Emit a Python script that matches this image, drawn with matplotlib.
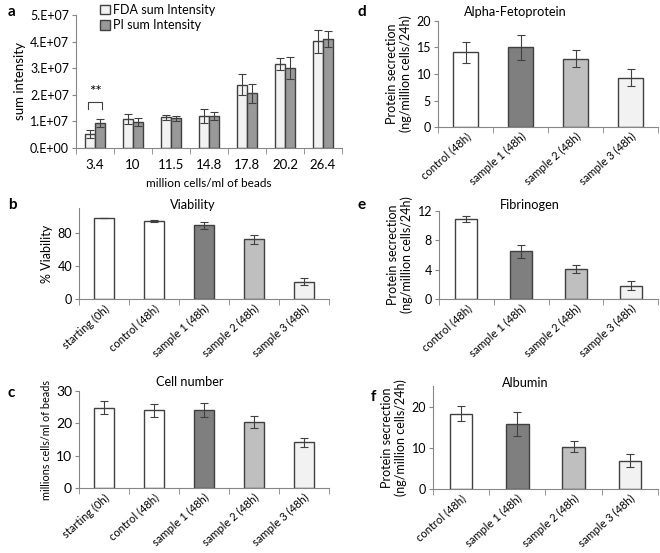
import numpy as np
import matplotlib.pyplot as plt

plt.rcParams['font.family'] = ['Lato', 'DejaVu Sans']
plt.rcParams['font.size'] = 9

# panel a data
densities = ['3.4', '10', '11.5', '14.8', '17.8', '20.2', '26.4']
fda = [0.54e7, 1.075e7, 1.15e7, 1.21e7, 2.375e7, 3.16e7, 4.01e7]
fda_err = [0.15e7, 0.19e7, 0.09e7, 0.26e7, 0.39e7, 0.21e7, 0.42e7]
pi = [0.94e7, 0.975e7, 1.11e7, 1.21e7, 2.05e7, 3.01e7, 4.09e7]
pi_err = [0.15e7, 0.14e7, 0.10e7, 0.14e7, 0.35e7, 0.40e7, 0.30e7]

# panels b, c
groups5 = ['starting (0h)', 'control (48h)', 'sample 1 (48h)', 'sample 2 (48h)', 'sample 3 (48h)']
viability = [98, 94, 89, 72, 21]
viability_err = [0, 1.5, 4, 5, 4.3]
cell_number = [24.8, 24.0, 24.2, 20.4, 14.2]
cell_number_err = [2.0, 2.0, 2.2, 1.9, 1.4]

# panels d, e, f
groups4 = ['control (48h)', 'sample 1 (48h)', 'sample 2 (48h)', 'sample 3 (48h)']
afp = [14.1, 15.0, 12.9, 9.3]
afp_err = [2.0, 2.4, 1.6, 1.6]
fibrinogen = [10.9, 6.5, 4.1, 1.8]
fibrinogen_err = [0.4, 0.9, 0.6, 0.6]
albumin = [18.3, 15.7, 10.3, 6.9]
albumin_err = [1.8, 2.9, 1.4, 1.5]

colors5 = ['white', 'white', '#7f7f7f', '#bfbfbf', '#f2f2f2']
colors4 = colors5[1:]
edge = '#404040'
spine_col = '#868686'

W, H = 660, 553
fig = plt.figure(figsize=(W / 100, H / 100), dpi=100)


def box(left, top, right, bottom):
    return [left / W, 1 - bottom / H, (right - left) / W, (bottom - top) / H]


def style(ax, n):
    for s in ['top', 'right']:
        ax.spines[s].set_visible(False)
    for s in ['left', 'bottom']:
        ax.spines[s].set_color(spine_col)
    ax.tick_params(axis='y', length=3, color=spine_col, pad=2)
    ax.set_xlim(-0.5, n - 0.5)
    ax.set_xticks(np.arange(n + 1) - 0.5, minor=True)
    ax.tick_params(axis='x', which='major', length=0, pad=3)
    ax.tick_params(axis='x', which='minor', length=4, color=spine_col)


def bar_panel(ax, labels, vals, errs, cols, ylim, yticks, ylabel, ylsize=9, width=0.4):
    x = np.arange(len(labels))
    ax.bar(x, vals, width, color=cols, edgecolor=edge, linewidth=1.0, zorder=2)
    ax.errorbar(x, vals, yerr=errs, fmt='none', ecolor='#404040', elinewidth=0.8,
                capsize=3, capthick=0.8, zorder=3)
    style(ax, len(labels))
    ax.set_ylim(*ylim)
    ax.set_yticks(yticks)
    ax.set_xticks(x)
    ax.set_xticklabels(labels, rotation=42, ha='right', rotation_mode='anchor', fontsize=8)
    ax.set_ylabel(ylabel, labelpad=3, fontsize=ylsize)


# panel a
ax = fig.add_axes(box(76, 15, 342, 148))
x = np.arange(len(densities))
w = 0.27
ax.bar(x - w / 2, fda, w, color='#f2f2f2', edgecolor=edge, linewidth=1.0, label='FDA sum Intensity', zorder=2)
ax.bar(x + w / 2, pi, w, color='#999999', edgecolor=edge, linewidth=1.0, label='PI sum Intensity', zorder=2)
ax.errorbar(x - w / 2, fda, yerr=fda_err, fmt='none', ecolor='#404040', elinewidth=0.8, capsize=3, capthick=0.8, zorder=3)
ax.errorbar(x + w / 2, pi, yerr=pi_err, fmt='none', ecolor='#404040', elinewidth=0.8, capsize=3, capthick=0.8, zorder=3)
style(ax, len(densities))
ax.set_ylim(0, 5e7)
ax.set_yticks(np.arange(0, 5.1e7, 1e7))
ax.set_yticklabels(['0.E+00', '1.E+07', '2.E+07', '3.E+07', '4.E+07', '5.E+07'])
ax.set_xticks(x)
ax.set_xticklabels(densities, fontsize=9.5)
ax.tick_params(axis='x', which='major', pad=8)
ax.set_xlabel('million cells/ml of beads', labelpad=5, fontsize=8.5)
ax.set_ylabel('sum intensity', labelpad=3, fontsize=9.5)
ax.legend(loc='upper left', bbox_to_anchor=(0.07, 1.12), frameon=False, handlelength=0.8,
          handleheight=0.8, handletextpad=0.3, labelspacing=0.25, borderaxespad=0)
# significance bracket
bx0, bx1 = -w / 2 - 0.05, w / 2 + 0.05
ax.plot([bx0, bx0, bx1, bx1], [1.45e7, 1.72e7, 1.72e7, 1.45e7], color='#404040', lw=0.8)
ax.text(0, 2.1e7, '**', ha='center', va='center', fontsize=11)

prot_label = 'Protein secrection\n(ng/million cells/24h)'

# panel b
ax = fig.add_axes(box(79, 208, 329, 299))
bar_panel(ax, groups5, viability, viability_err, colors5, (0, 110), [0, 40, 80], '% Viability')

# panel c
ax = fig.add_axes(box(79, 391, 329, 488))
bar_panel(ax, groups5, cell_number, cell_number_err, colors5, (0, 30), [0, 10, 20, 30],
          'millions cells/ml of beads', ylsize=7.8)
ax.tick_params(axis='y', labelsize=10)

# panel d
ax = fig.add_axes(box(438, 21, 658, 127))
bar_panel(ax, groups4, afp, afp_err, colors4, (0, 20), [0, 5, 10, 15, 20], prot_label, width=0.47)

# panel e
ax = fig.add_axes(box(439, 211, 658, 299))
bar_panel(ax, groups4, fibrinogen, fibrinogen_err, colors4, (0, 12), [0, 4, 8, 12], prot_label)

# panel f
ax = fig.add_axes(box(433, 386, 658, 489))
bar_panel(ax, groups4, albumin, albumin_err, colors4, (0, 25), [0, 10, 20], prot_label)

# panel titles (placed where the reference draws them)
for title, px, py in [('Viability', 193, 205), ('Cell number', 190, 382), ('Alpha-Fetoprotein', 515, 12),
                      ('Fibrinogen', 530, 205), ('Albumin', 525, 383)]:
    fig.text(px / W, 1 - py / H, title, fontsize=9.2, ha='center', va='center')

# panel letters
for letter, px, py in [('a', 8, 12), ('b', 8, 205), ('c', 8, 393), ('d', 357, 12), ('e', 357, 205), ('f', 371, 397)]:
    fig.text(px / W, 1 - py / H, letter, fontsize=11, fontweight='bold', ha='left', va='center')

fig.savefig('out.png', dpi=100)
